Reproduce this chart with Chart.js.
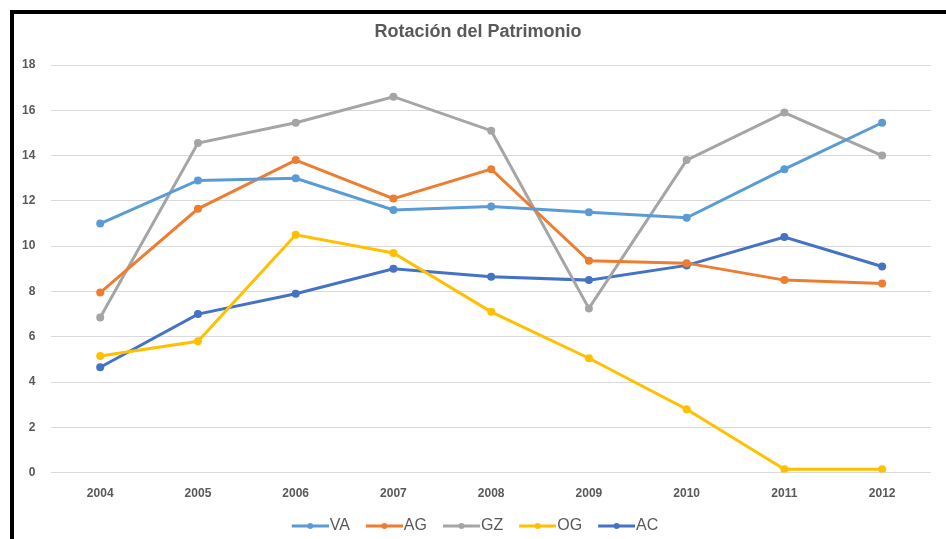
<!DOCTYPE html>
<html>
<head>
<meta charset="utf-8">
<script src="https://cdn.jsdelivr.net/npm/chart.js@4.4.1/dist/chart.umd.min.js"></script>
<style>
  html, body { margin: 0; padding: 0; background: #fff; overflow: hidden; }
  #wrap { position: relative; width: 946px; height: 539px; overflow: hidden; }
  #frame {
    position: absolute; left: 10px; top: 10px; width: 940px; height: 540px;
    border-left: 4px solid #000; border-top: 4px solid #000; pointer-events: none;
  }
  canvas { position: absolute; left: 0; top: 0; }
</style>
</head>
<body>
<div id="wrap">
  <canvas id="chart" width="946" height="544"></canvas>
  <div id="frame"></div>
</div>
<script>
const years = ["2004", "2005", "2006", "2007", "2008", "2009", "2010", "2011", "2012"];

const seriesVA = [11.0, 12.9, 13.0, 11.6, 11.75, 11.5, 11.25, 13.4, 15.45];
const seriesAG = [7.95, 11.65, 13.8, 12.1, 13.4, 9.35, 9.25, 8.5, 8.35];
const seriesGZ = [6.85, 14.55, 15.45, 16.6, 15.1, 7.25, 13.8, 15.9, 14.0];
const seriesOG = [5.15, 5.8, 10.5, 9.7, 7.1, 5.05, 2.8, 0.15, 0.15];
const seriesAC = [4.65, 7.0, 7.9, 9.0, 8.65, 8.5, 9.15, 10.4, 9.1];

const seriesNames = ["VA", "AG", "GZ", "OG", "AC"];
const seriesColors = ["#5B9BD5", "#ED7D31", "#A5A5A5", "#FFC000", "#4472C4"];

const chartTitle = "Rotación del Patrimonio";
const textColor = "#595959";
const fontFamily = "Liberation Sans, Arial, sans-serif";

// legend marker: a short line with a dot, like the spreadsheet legend
function legendMarker(color) {
  const c = document.createElement("canvas");
  c.width = 57;
  c.height = 10;
  const g = c.getContext("2d");
  g.strokeStyle = color;
  g.lineWidth = 3;
  g.beginPath();
  g.moveTo(20, 5);
  g.lineTo(57, 5);
  g.stroke();
  g.fillStyle = color;
  g.beginPath();
  g.arc(38.5, 5, 3, 0, Math.PI * 2);
  g.fill();
  return c;
}

function makeDataset(name, values, color) {
  return {
    label: name,
    data: values,
    borderColor: color,
    backgroundColor: color,
    borderWidth: 3,
    pointRadius: 4,
    pointBackgroundColor: color,
    pointBorderColor: color,
    pointBorderWidth: 0,
    pointStyle: "circle",
    tension: 0,
  };
}

// title drawn a little right of the canvas middle, as in the original sheet
const titlePlugin = {
  id: "sheetTitle",
  afterDraw(chart) {
    const ctx = chart.ctx;
    ctx.save();
    ctx.fillStyle = textColor;
    ctx.font = "bold 18px " + fontFamily;
    ctx.textAlign = "center";
    ctx.textBaseline = "middle";
    ctx.fillText(chartTitle, 478, 32);
    ctx.restore();
  },
};

const allSeries = [seriesVA, seriesAG, seriesGZ, seriesOG, seriesAC];
const datasets = allSeries.map((vals, i) => makeDataset(seriesNames[i], vals, seriesColors[i]));

const markers = seriesColors.map(legendMarker);

new Chart(document.getElementById("chart"), {
  type: "line",
  data: { labels: years, datasets: datasets },
  plugins: [titlePlugin],
  options: {
    responsive: false,
    animation: false,
    layout: { padding: { left: 6, right: 15, top: 65, bottom: 0 } },
    plugins: {
      title: { display: false },
      legend: {
        position: "bottom",
        labels: {
          usePointStyle: true,
          pointStyleWidth: 43,
          padding: 3,
          color: textColor,
          font: { family: fontFamily, size: 16, lineHeight: 1 },
          generateLabels: (chart) =>
            chart.data.datasets.map((ds, i) => ({
              text: ds.label,
              fillStyle: ds.borderColor,
              strokeStyle: ds.borderColor,
              lineWidth: 0,
              pointStyle: markers[i],
              fontColor: textColor,
              datasetIndex: i,
              hidden: false,
            })),
        },
      },
      tooltip: { enabled: false },
    },
    scales: {
      x: {
        offset: true,
        grid: { display: false, drawTicks: false },
        border: { display: false },
        ticks: {
          color: textColor,
          padding: 14,
          font: { family: fontFamily, size: 12, weight: "bold" },
        },
      },
      y: {
        min: 0,
        max: 18,
        grid: { color: "#D9D9D9", lineWidth: 1, drawTicks: false },
        border: { display: false },
        ticks: {
          stepSize: 2,
          color: textColor,
          padding: 16,
          font: { family: fontFamily, size: 12, weight: "bold" },
        },
      },
    },
  },
});
</script>
</body>
</html>
